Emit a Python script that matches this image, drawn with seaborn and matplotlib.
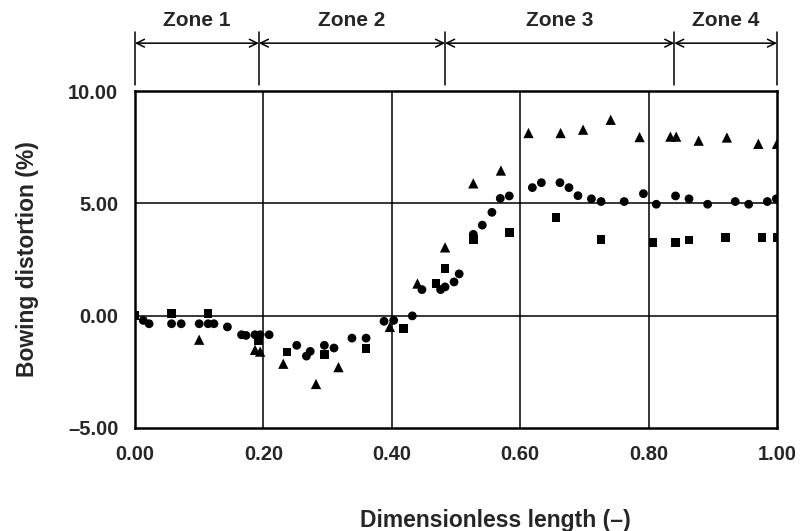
import pandas as pd
import matplotlib
matplotlib.use("Agg")
import matplotlib.pyplot as plt
import seaborn as sns

# circles
circle_x = [0.013, 0.022, 0.057, 0.072, 0.100, 0.114, 0.123, 0.144, 0.166, 0.173,
            0.187, 0.195, 0.209, 0.252, 0.267, 0.273, 0.295, 0.310, 0.338, 0.360,
            0.388, 0.403, 0.432, 0.447, 0.476, 0.483, 0.497, 0.505, 0.527, 0.541,
            0.556, 0.569, 0.583, 0.619, 0.633, 0.662, 0.676, 0.690, 0.711, 0.726,
            0.762, 0.792, 0.812, 0.842, 0.863, 0.892, 0.935, 0.956, 0.985, 0.999]
circle_y = [-0.21, -0.36, -0.36, -0.36, -0.36, -0.36, -0.36, -0.50, -0.85, -0.88,
            -0.85, -0.85, -0.85, -1.32, -1.80, -1.59, -1.32, -1.44, -1.00, -1.00,
            -0.25, -0.21, -0.01, 1.16, 1.16, 1.28, 1.50, 1.86, 3.62, 4.03,
            4.60, 5.22, 5.33, 5.70, 5.92, 5.92, 5.70, 5.34, 5.20, 5.08,
            5.08, 5.43, 4.96, 5.33, 5.20, 4.96, 5.08, 4.96, 5.08, 5.20]

# squares
square_x = [0.000, 0.057, 0.114, 0.192, 0.237, 0.295, 0.360, 0.418, 0.469, 0.483,
            0.527, 0.583, 0.656, 0.726, 0.807, 0.842, 0.863, 0.920, 0.977, 1.000]
square_y = [0.00, 0.10, 0.09, -1.10, -1.62, -1.74, -1.47, -0.58, 1.43, 2.10,
            3.39, 3.71, 4.36, 3.39, 3.26, 3.26, 3.36, 3.47, 3.47, 3.47]

# triangles
triangle_x = [0.100, 0.187, 0.195, 0.231, 0.282, 0.317, 0.397, 0.440, 0.483, 0.527,
              0.570, 0.613, 0.663, 0.698, 0.741, 0.786, 0.834, 0.843, 0.878, 0.922,
              0.971, 1.000]
triangle_y = [-1.07, -1.52, -1.60, -2.14, -3.04, -2.29, -0.50, 1.43, 3.04, 5.89,
              6.46, 8.13, 8.13, 8.28, 8.72, 7.95, 7.97, 7.97, 7.79, 7.93,
              7.65, 7.65]

zone_edges = [0.0, 0.193, 0.483, 0.840, 1.0]
zone_names = ["Zone 1", "Zone 2", "Zone 3", "Zone 4"]

df = pd.concat([
    pd.DataFrame({"x": circle_x, "y": circle_y, "set": "circle"}),
    pd.DataFrame({"x": square_x, "y": square_y, "set": "square"}),
    pd.DataFrame({"x": triangle_x, "y": triangle_y, "set": "triangle"}),
])

sns.set_style("white")
plt.rcParams["font.family"] = ["Liberation Sans", "DejaVu Sans"]
plt.rcParams["font.weight"] = "bold"

fig = plt.figure(figsize=(8.01, 5.31), dpi=100)
ax = fig.add_axes([0.1685, 0.194, 0.8015, 0.6346])

sns.scatterplot(
    data=df, x="x", y="y", style="set", size="set",
    markers={"circle": "o", "square": "s", "triangle": "^"},
    sizes={"circle": 40, "square": 38, "triangle": 55},
    color="black", edgecolor="black", linewidth=0,
    legend=False, ax=ax, zorder=3,
)

ax.set_xlim(0, 1)
ax.set_ylim(-5, 10)
ax.set_xticks([0, 0.2, 0.4, 0.6, 0.8, 1.0])
ax.set_yticks([-5, 0, 5, 10])
ax.xaxis.set_major_formatter(plt.FuncFormatter(lambda v, p: f"{v:.2f}"))
ax.yaxis.set_major_formatter(plt.FuncFormatter(lambda v, p: f"{v:.2f}".replace("-", "\u2013")))
ax.tick_params(axis="x", length=0, pad=12, labelsize=14.5)
ax.tick_params(axis="y", length=0, pad=12, labelsize=14.5)

for gx in [0.2, 0.4, 0.6, 0.8]:
    ax.axvline(gx, color="black", lw=1.1, zorder=1)
for gy in [0, 5]:
    ax.axhline(gy, color="black", lw=1.1, zorder=1)

for sp in ax.spines.values():
    sp.set_color("black")
    sp.set_linewidth(1.8)

ax.set_xlabel("Dimensionless length (\u2013)", fontsize=16.5, fontweight="bold", va="center")
ax.set_ylabel("Bowing distortion (%)", fontsize=16.5, fontweight="bold", va="center")
ax.xaxis.set_label_coords(0.562, -0.276)
ax.yaxis.set_label_coords(-0.168, 0.5)

# zone markers above the plot
trans = ax.get_xaxis_transform()
for edge in zone_edges:
    ax.plot([edge, edge], [1.018, 1.175], color="black", lw=1.1,
            transform=trans, clip_on=False)
for i, name in enumerate(zone_names):
    x0, x1 = zone_edges[i], zone_edges[i + 1]
    ax.annotate("", xy=(x1, 1.142), xytext=(x0, 1.142), xycoords=trans,
                textcoords=trans,
                arrowprops=dict(arrowstyle="<->", color="black", lw=1.1,
                                shrinkA=0, shrinkB=0, mutation_scale=14))
    ax.text((x0 + x1) / 2, 1.208, name, transform=trans, ha="center",
            va="center", fontsize=15, fontweight="bold")

fig.savefig("out.png", dpi=100)
plt.close(fig)
